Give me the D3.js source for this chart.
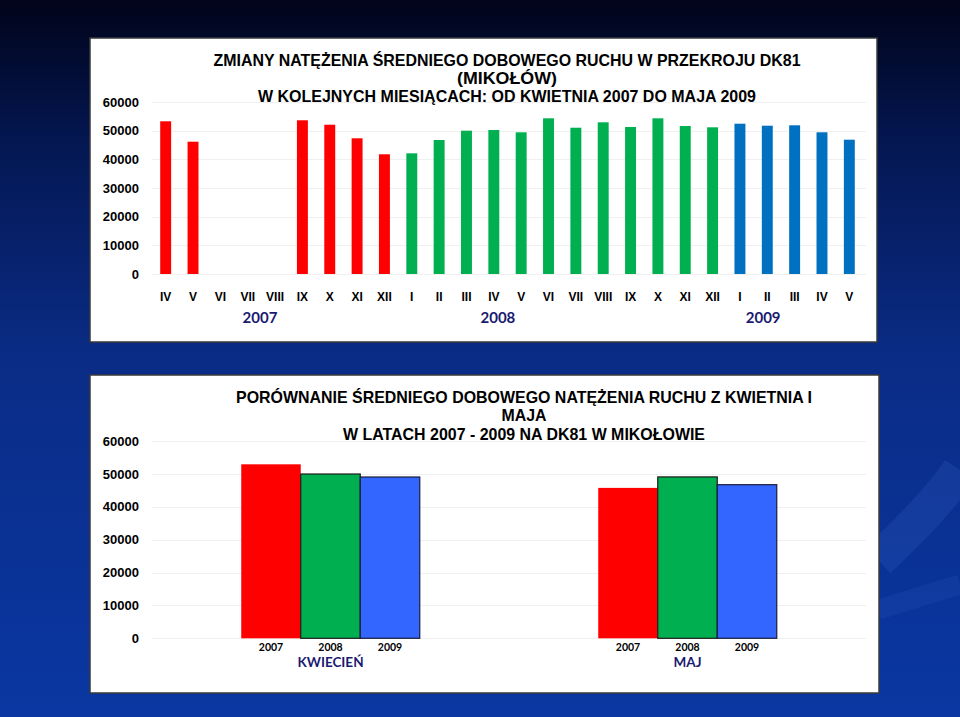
<!DOCTYPE html>
<html>
<head>
<meta charset="utf-8">
<script src="https://cdn.jsdelivr.net/npm/d3@7/dist/d3.min.js"></script>
<style>
  html, body { margin: 0; padding: 0; background: #021040; }
</style>
</head>
<body>
<div id="chart"></div>
<script>
// monthly chart data: April 2007 - May 2009 (VI-VIII 2007 missing)
var months = ["IV","V","VI","VII","VIII","IX","X","XI","XII",
              "I","II","III","IV","V","VI","VII","VIII","IX","X","XI","XII",
              "I","II","III","IV","V"];
var monthYear = [2007,2007,2007,2007,2007,2007,2007,2007,2007,
                 2008,2008,2008,2008,2008,2008,2008,2008,2008,2008,2008,2008,
                 2009,2009,2009,2009,2009];
var monthValues = [53270,46150,null,null,null,53620,52080,47340,41760,
                   42100,46740,49990,50230,49430,54310,51030,52920,51280,54310,51630,51170,
                   52430,51730,51870,49430,46850];
var yearLabels = ["2007","2008","2009"];
var yearLabelPos = [3.45, 12.15, 21.85];   // in month-slot units

var topTitle = ["ZMIANY NATĘŻENIA ŚREDNIEGO DOBOWEGO RUCHU W PRZEKROJU DK81",
                "(MIKOŁÓW)",
                "W KOLEJNYCH MIESIĄCACH: OD KWIETNIA 2007 DO MAJA 2009"];

// comparison chart data
var groups = ["KWIECIEŃ", "MAJ"];
var years = ["2007", "2008", "2009"];
var compValues = [
  [52910, 49960, 49050],   // kwiecień
  [45740, 49080, 46710]    // maj
];
var bottomTitle = ["PORÓWNANIE ŚREDNIEGO DOBOWEGO NATĘŻENIA RUCHU Z KWIETNIA I",
                   "MAJA",
                   "W LATACH 2007 - 2009 NA DK81 W MIKOŁOWIE"];

var yTicks = [0,10000,20000,30000,40000,50000,60000];

var ARIAL = "'Liberation Sans', Arial, sans-serif";
var CALIBRI = "Lato, 'Open Sans', sans-serif";

var W = 960, H = 717;
var svg = d3.select("#chart").append("svg")
    .attr("width", W).attr("height", H);

// background
var defs = svg.append("defs");
var bg = defs.append("linearGradient").attr("id", "bg")
    .attr("x1", 0).attr("y1", 0).attr("x2", 0).attr("y2", 1);
bg.append("stop").attr("offset", "0%").attr("stop-color", "#01041a");
bg.append("stop").attr("offset", "20%").attr("stop-color", "#041752");
bg.append("stop").attr("offset", "50%").attr("stop-color", "#0a2c86");
bg.append("stop").attr("offset", "100%").attr("stop-color", "#0a37a2");
svg.append("rect").attr("width", W).attr("height", H).attr("fill", "url(#bg)");

svg.append("path")
    .attr("d", "M878,560 C910,530 940,500 960,470")
    .attr("fill", "none").attr("stroke", "#3a66c8").attr("stroke-opacity", 0.22)
    .attr("stroke-width", 36);
svg.append("path")
    .attr("d", "M878,610 C910,600 940,590 960,585")
    .attr("fill", "none").attr("stroke", "#3a66c8").attr("stroke-opacity", 0.15)
    .attr("stroke-width", 20);

function panel(x0, y0, x1, y1) {
  svg.append("rect")
      .attr("x", x0).attr("y", y0)
      .attr("width", x1 - x0).attr("height", y1 - y0)
      .attr("fill", "#fff")
      .attr("stroke", "#3a3a3a").attr("stroke-width", 1.5);
}

function yAxis(y, x0, x1) {
  svg.append("g").selectAll("line").data(yTicks).enter().append("line")
      .attr("x1", x0).attr("x2", x1)
      .attr("y1", function(d) { return Math.round(y(d)) + 0.5; })
      .attr("y2", function(d) { return Math.round(y(d)) + 0.5; })
      .attr("stroke", "#f0f0f0");
  svg.append("g").selectAll("text").data(yTicks).enter().append("text")
      .attr("x", 139).attr("y", function(d) { return y(d); })
      .attr("dy", "0.36em")
      .attr("text-anchor", "end")
      .style("font-family", ARIAL)
      .style("font-size", "13px").style("font-weight", "bold").attr("fill", "#000")
      .text(function(d) { return d; });
}

function title(lines, cx, baselines, widths) {
  svg.append("g").selectAll("text").data(lines).enter().append("text")
      .attr("x", cx).attr("y", function(d, i) { return baselines[i]; })
      .attr("text-anchor", "middle")
      .style("font-family", ARIAL)
      .style("font-size", "16.5px").style("font-weight", "bold").attr("fill", "#000")
      .attr("textLength", function(d, i) { return widths[i]; })
      .attr("lengthAdjust", "spacingAndGlyphs")
      .text(function(d) { return d; });
}

// ---------- top chart ----------
panel(90, 38, 877, 342);

var x1 = d3.scaleBand().domain(d3.range(months.length))
    .range([152, 863]).paddingInner(0.6).paddingOuter(0.3);
var y1 = d3.scaleLinear().domain([0, 60000]).range([274, 102]);
yAxis(y1, 152, 866);

var barColor = {2007: "#ff0000", 2008: "#00b050", 2009: "#0070c0"};

svg.append("g").selectAll("rect")
    .data(monthValues.map(function(v, i) { return {i: i, v: v}; })
          .filter(function(d) { return d.v != null; }))
    .enter().append("rect")
      .attr("x", function(d) { return x1(d.i); })
      .attr("width", x1.bandwidth())
      .attr("y", function(d) { return y1(d.v); })
      .attr("height", function(d) { return y1(0) - y1(d.v); })
      .attr("fill", function(d) { return barColor[monthYear[d.i]]; });

svg.append("g").selectAll("text").data(months).enter().append("text")
    .attr("x", function(d, i) { return x1(i) + x1.bandwidth() / 2; })
    .attr("y", 300.5)
    .attr("text-anchor", "middle")
    .style("font-family", ARIAL)
    .style("font-size", "12px").style("font-weight", "bold").attr("fill", "#000")
    .text(function(d) { return d; });

var step1 = x1.step();
svg.append("g").selectAll("text").data(yearLabels).enter().append("text")
    .attr("x", function(d, i) { return x1(0) + x1.bandwidth() / 2 + yearLabelPos[i] * step1; })
    .attr("y", 323)
    .attr("text-anchor", "middle")
    .style("font-family", CALIBRI)
    .style("font-size", "15px").style("font-weight", "bold").attr("fill", "#1a1a70")
    .text(function(d) { return d; });

title(topTitle, 507, [66, 84, 102], [587, 100, 498]);

// ---------- bottom chart ----------
panel(90, 375, 879, 693);

var x2 = d3.scaleBand().domain(groups).range([152, 866]);
var xs = d3.scaleBand().domain(years).range([0, x2.bandwidth() * 0.5]);
var y2 = d3.scaleLinear().domain([0, 60000]).range([638.3, 441]);
yAxis(y2, 152, 866);

var compColor = {"2007": "#ff0000", "2008": "#00b050", "2009": "#3366ff"};
var compStroke = {"2007": "none", "2008": "#1a1a1a", "2009": "#1a1a3a"};

var grp = svg.append("g").selectAll("g").data(groups).enter().append("g")
    .attr("transform", function(d) { return "translate(" + (x2(d) + x2.bandwidth() * 0.25) + ",0)"; });

grp.selectAll("rect")
    .data(function(d, gi) { return years.map(function(yr, k) { return {yr: yr, v: compValues[gi][k]}; }); })
    .enter().append("rect")
      .attr("x", function(d) { return xs(d.yr); })
      .attr("width", xs.bandwidth())
      .attr("y", function(d) { return y2(d.v); })
      .attr("height", function(d) { return y2(0) - y2(d.v); })
      .attr("fill", function(d) { return compColor[d.yr]; })
      .attr("stroke", function(d) { return compStroke[d.yr]; })
      .attr("stroke-width", 1.2);

grp.selectAll("text.yr").data(years).enter().append("text")
    .attr("class", "yr")
    .attr("x", function(d) { return xs(d) + xs.bandwidth() / 2; })
    .attr("y", 651)
    .attr("text-anchor", "middle")
    .style("font-family", CALIBRI)
    .style("font-size", "10.5px").style("font-weight", "bold").attr("fill", "#000")
    .text(function(d) { return d; });

grp.append("text")
    .attr("x", xs.range()[1] / 2)
    .attr("y", 667)
    .attr("text-anchor", "middle")
    .style("font-family", CALIBRI)
    .style("font-size", "13.5px").style("font-weight", "bold").attr("fill", "#1a1a70")
    .text(function(d) { return d; });

title(bottomTitle, 524, [403, 421, 440], [576, 45, 362]);
</script>
</body>
</html>
